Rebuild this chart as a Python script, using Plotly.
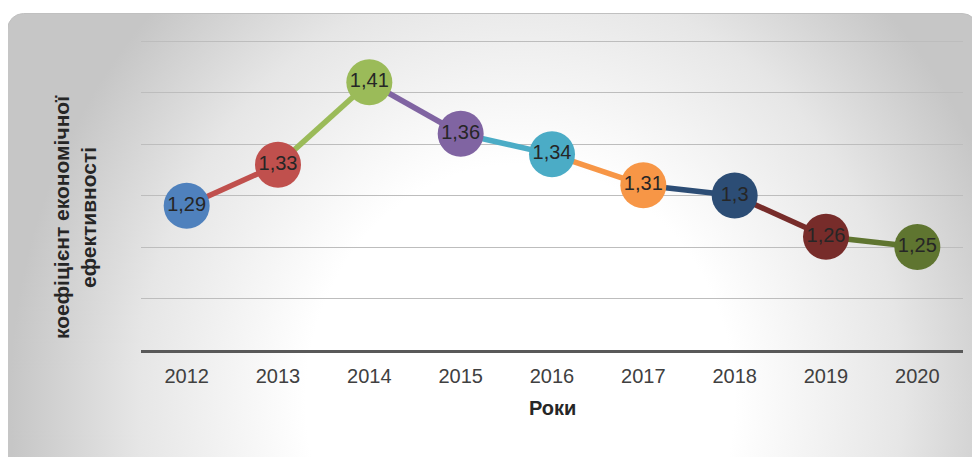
import base64
import plotly.graph_objects as go

years = ["2012", "2013", "2014", "2015", "2016", "2017", "2018", "2019", "2020"]
values = [1.29, 1.33, 1.41, 1.36, 1.34, 1.31, 1.30, 1.26, 1.25]
colors = ["#4F81BD", "#C0504D", "#9BBB59", "#8064A2", "#4BACC6",
          "#F79646", "#2C4D75", "#772C2A", "#5F7530"]
labels = [f"{v:g}".replace(".", ",") for v in values]

# page body has an 8px margin; compensate
OFF = 8
W, H = 980, 457
YMIN, YMAX, YTOP = 1.15, 1.45, 1.452
pxu = (350 - 41) / (YMAX - YMIN)
L = 141 - OFF
T = int(round(41 - OFF - (YTOP - YMAX) * pxu))
R = W - (963 - OFF)
B = H - (350 - OFF)
pw, ph = W - L - R, H - T - B

cx, cy = 520 - OFF, 400 - OFF
svg = f'''<svg xmlns="http://www.w3.org/2000/svg" width="{W}" height="{H}" viewBox="0 0 {W} {H}">
<defs>
<radialGradient id="g" gradientUnits="userSpaceOnUse" cx="{cx}" cy="{cy}" r="510"
 gradientTransform="translate({cx} {cy}) scale(1 1.1) translate({-cx} {-cy})">
<stop offset="0" stop-color="#ffffff"/>
<stop offset="0.42" stop-color="#ffffff"/>
<stop offset="0.75" stop-color="#e6e6e6"/>
<stop offset="1" stop-color="#c6c6c6"/>
</radialGradient>
</defs>
<rect x="{7.5 - OFF}" y="{13.5 - OFF}" width="{978 - 7.5}" height="470" rx="16" ry="16" fill="url(#g)" stroke="#c0c0c0" stroke-width="1"/>
</svg>'''
src = "data:image/svg+xml;base64," + base64.b64encode(svg.encode()).decode()

fig = go.Figure()
for i in range(1, len(years)):
    fig.add_trace(go.Scatter(
        x=[years[i - 1], years[i]], y=[values[i - 1], values[i]],
        mode="lines", line=dict(color=colors[i], width=5.5),
        hoverinfo="skip", showlegend=False))

fig.add_trace(go.Scatter(
    x=years, y=values, mode="markers+text",
    marker=dict(size=46, color=colors, line=dict(width=0)),
    text=labels, textposition="middle center",
    textfont=dict(family="Liberation Sans, Arial", size=20, color="#262626"),
    showlegend=False, cliponaxis=False))

fig.update_layout(
    width=W, height=H,
    margin=dict(l=L, r=R, t=T, b=B),
    paper_bgcolor="white", plot_bgcolor="rgba(0,0,0,0)",
    font=dict(family="Liberation Sans, Arial", size=20, color="#404040"),
    images=[dict(source=src, xref="paper", yref="paper",
                 x=-L / pw, y=1 + T / ph, sizex=W / pw, sizey=H / ph,
                 xanchor="left", yanchor="top", sizing="stretch", layer="below")],
    xaxis=dict(type="category", range=[-0.5, 8.5], showgrid=False,
               showline=True, linecolor="#595959", linewidth=3,
               ticks="", ticklabelstandoff=6,
               tickfont=dict(size=20, color="#404040"),
               zeroline=False, fixedrange=True),
    yaxis=dict(range=[YMIN, YTOP], dtick=0.05, tick0=YMIN, showticklabels=False,
               showgrid=True, gridcolor="#bdbdbd", gridwidth=1.3,
               zeroline=False, showline=False, ticks="", fixedrange=True),
    annotations=[
        dict(text="<b>Роки</b>", xref="paper", yref="paper",
             x=0.5, y=-58 / ph, xanchor="center", yanchor="middle",
             showarrow=False, font=dict(size=20, color="#262626")),
        dict(text="<b>коефіцієнт економічної<br>ефективності</b>",
             xref="paper", yref="paper", x=-(141 - 75) / pw,
             y=(350 - 217) / ph,
             xanchor="center", yanchor="middle", textangle=-90,
             showarrow=False, font=dict(size=21, color="#262626")),
    ],
)

fig.write_html("out.html")
